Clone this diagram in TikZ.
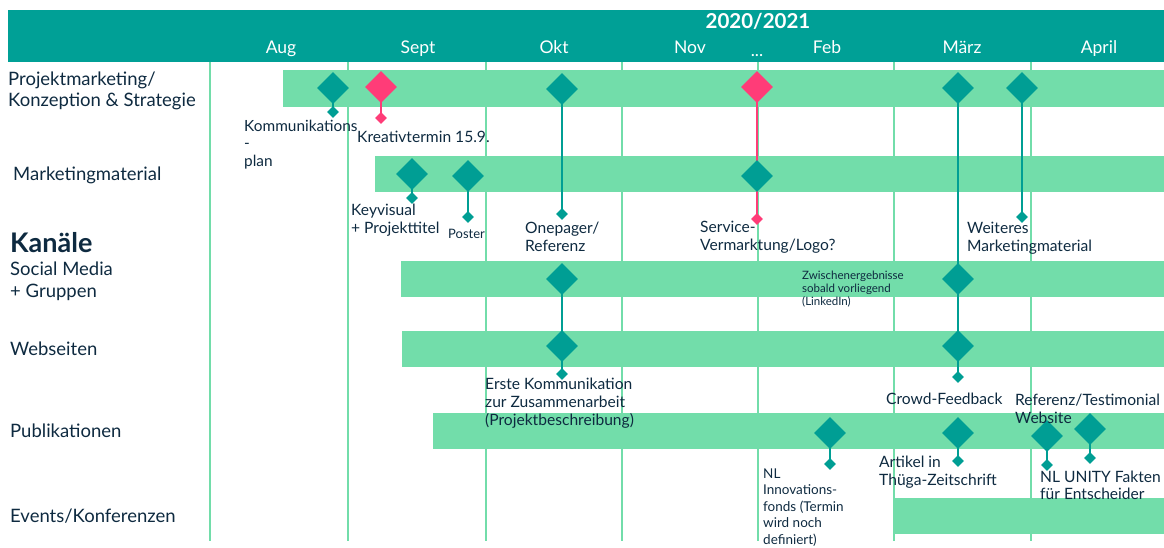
\documentclass[tikz,border=0pt]{standalone}
\usepackage{fontspec}
\setmainfont{Lato}
\usetikzlibrary{shapes.geometric}
\definecolor{hdrteal}{RGB}{0,160,150}
\definecolor{msteal}{RGB}{0,158,148}
\definecolor{mspink}{RGB}{255,60,120}
\definecolor{bargreen}{RGB}{114,221,170}
\definecolor{ink}{RGB}{14,42,64}
\pgfdeclarelayer{bars}
\pgfdeclarelayer{stems}
\pgfsetlayers{bars,stems,main}
% multi-line labels are placed by the baseline of their last line
\tikzset{
  bigdia/.style={diamond, fill=msteal, inner sep=0pt, minimum width=32pt, minimum height=32pt},
  smalldia/.style={diamond, fill=msteal, inner sep=0pt, minimum width=12pt, minimum height=12pt},
  pinkdia/.style={fill=mspink},
  stem/.style={msteal, line width=2pt},
  pinkstem/.style={mspink, line width=2pt},
  gridline/.style={bargreen, line width=2pt},
  bar/.style={fill=bargreen},
  rowlabel/.style={anchor=base west, inner sep=0pt, text=ink, align=left,
    font=\fontsize{18.5}{21}\selectfont},
  note/.style={anchor=base west, inner sep=0pt, text=ink, align=left,
    font=\fontsize{15.6}{18}\selectfont},
  month/.style={anchor=base, inner sep=0pt, text=white, font=\fontsize{17.5}{19}\selectfont},
}
\begin{document}
\begin{tikzpicture}[x=1pt,y=-1pt]
\useasboundingbox (0,0) rectangle (1164,547);

% header band
\fill[hdrteal] (8,10) rectangle (1164,62);
\node[anchor=base, inner sep=0pt, text=white, font=\fontsize{20.5}{22}\selectfont\bfseries] (year) at (758,28) {2020/2021};
\node[month] (aug) at (281,53) {Aug};
\node[month] (sep) at (418,53) {Sept};
\node[month] (okt) at (554,53) {Okt};
\node[month] (nov) at (690,53) {Nov};
\node[month] (dots) at (757,56) {...};
\node[month] (feb) at (827,53) {Feb};
\node[month] (mar) at (962,53) {März};
\node[month] (apr) at (1099,53) {April};

% month grid and activity bars
\begin{pgfonlayer}{bars}
  \foreach \gx in {210,348,486,622,758,894,1031}
    \draw[gridline] (\gx,62) -- (\gx,541);
  \fill[bar] (283,70) rectangle (1164,107);
  \fill[bar] (375,156) rectangle (1164,192);
  \fill[bar] (401,261) rectangle (1164,297);
  \fill[bar] (402,331) rectangle (1164,367);
  \fill[bar] (433,413) rectangle (1164,449);
  \fill[bar] (893,498) rectangle (1164,534);
\end{pgfonlayer}

% row labels
\node[rowlabel] (rA) at (8,106) {Projektmarketing/\\Konzeption \& Strategie};
\node[rowlabel] (rB) at (13,180) {Marketingmaterial};
\node[anchor=base west, inner sep=0pt, text=ink, font=\fontsize{27}{28}\selectfont\bfseries] (kan) at (10,252) {Kanäle};
\node[rowlabel, font=\fontsize{18.5}{22}\selectfont] (rC) at (10,297) {Social Media\\+ Gruppen};
\node[rowlabel] (rD) at (10,355) {Webseiten};
\node[rowlabel] (rE) at (10,437) {Publikationen};
\node[rowlabel] (rF) at (10,522) {Events/Konferenzen};

% milestones
\node[bigdia] (d1) at (333,88) {};
\node[bigdia, pinkdia] (p1) at (381,87) {};
\node[bigdia] (d3) at (562,89) {};
\node[bigdia, pinkdia] (p2) at (757,87) {};
\node[bigdia] (d5) at (958,88) {};
\node[bigdia] (d6) at (1022,88) {};
\node[bigdia] (d7) at (412,174) {};
\node[bigdia] (d8) at (468,176) {};
\node[bigdia] (d9) at (757,176) {};
\node[bigdia] (d10) at (562,279) {};
\node[bigdia] (d11) at (958,279) {};
\node[bigdia] (d12) at (562,346) {};
\node[bigdia] (d13) at (958,346) {};
\node[bigdia] (d14) at (830,433) {};
\node[bigdia] (d15) at (958,433) {};
\node[bigdia] (d16) at (1047,436) {};
\node[bigdia] (d17) at (1090,429) {};

\node[smalldia] (s1) at (333,112) {};
\node[smalldia, pinkdia] (q1) at (381,118) {};
\node[smalldia] (s3) at (562,214) {};
\node[smalldia, pinkdia] (q2) at (757,219) {};
\node[smalldia] (s5) at (958,377) {};
\node[smalldia] (s6) at (1022,217) {};
\node[smalldia] (s7) at (412,198) {};
\node[smalldia] (s8) at (468,217) {};
\node[smalldia] (s10) at (562,374) {};
\node[smalldia] (s14) at (830,464) {};
\node[smalldia] (s15) at (958,461) {};
\node[smalldia] (s16) at (1047,465) {};
\node[smalldia] (s17) at (1090,458) {};

\begin{pgfonlayer}{stems}
  \draw[stem] (d1.center) -- (s1.center);
  \draw[pinkstem] (p1.center) -- (q1.center);
  \draw[stem] (d3.center) -- (s3.center);
  \draw[pinkstem] (p2.center) -- (q2.center);
  \draw[stem] (d5.center) -- (s5.center);
  \draw[stem] (d6.center) -- (s6.center);
  \draw[stem] (d7.center) -- (s7.center);
  \draw[stem] (d8.center) -- (s8.center);
  \draw[stem] (d10.center) -- (s10.center);
  \draw[stem] (d14.center) -- (s14.center);
  \draw[stem] (d15.center) -- (s15.center);
  \draw[stem] (d16.center) -- (s16.center);
  \draw[stem] (d17.center) -- (s17.center);
\end{pgfonlayer}

% milestone notes
\node[note, font=\fontsize{15.4}{17.5}\selectfont] (nKom) at (244,166) {Kommunikations\\-\\plan};
\node[note] (nKrea) at (357,142) {Kreativtermin 15.9.};
\node[note] (nKey) at (351,233) {Keyvisual\\+ Projekttitel};
\node[note, font=\fontsize{13}{15}\selectfont] (nPos) at (448,238) {Poster};
\node[note] (nOne) at (525,251) {Onepager/\\Referenz};
\node[note] (nServ) at (700,250) {Service-\\Vermarktung/Logo?};
\node[note] (nWeit) at (967,251) {Weiteres\\Marketingmaterial};
\node[note, font=\fontsize{11.5}{13}\selectfont] (nZw) at (802,305) {Zwischenergebnisse\\sobald vorliegend\\(LinkedIn)};
\node[note] (nErst) at (485,425) {Erste Kommunikation\\zur Zusammenarbeit\\(Projektbeschreibung)};
\node[note, font=\fontsize{13.5}{16.5}\selectfont] (nNL) at (763,544) {NL\\Innovations-\\fonds (Termin\\wird noch\\definiert)};
\node[note] (nCrowd) at (886,404) {Crowd-Feedback};
\node[note] (nRef) at (1015,423) {Referenz/Testimonial\\Website};
\node[note] (nArt) at (879,485) {Artikel in\\Thüga-Zeitschrift};
\node[note, font=\fontsize{15.6}{17}\selectfont] (nUni) at (1040,499) {NL UNITY Fakten\\für Entscheider};
\end{tikzpicture}
\end{document}
